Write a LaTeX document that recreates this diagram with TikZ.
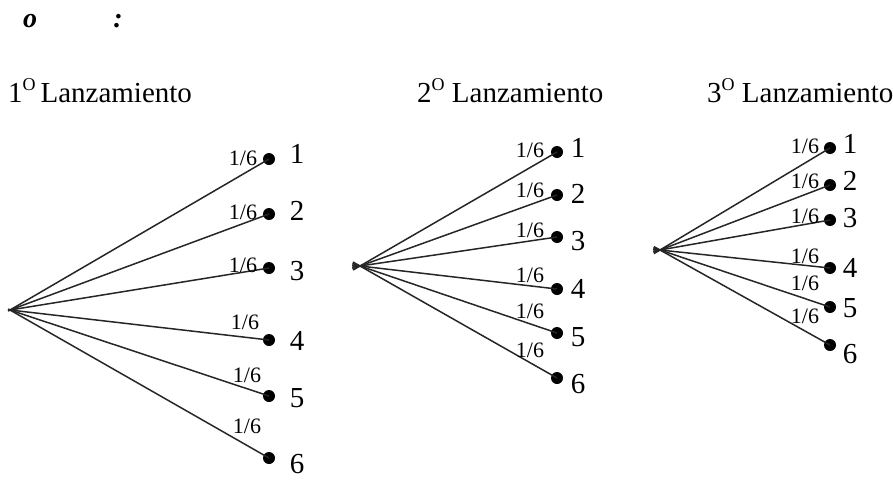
\documentclass[tikz,border=0pt]{standalone}
\usepackage{fontspec}
\setmainfont{Liberation Serif}
\usetikzlibrary{calc}
\begin{document}
\begin{tikzpicture}[x=1pt,y=-1pt,
  leaf/.style={circle,fill=black,inner sep=0pt,minimum size=12pt},
  br/.style={line width=1.5pt,black!85},
  prob/.style={anchor=base,inner sep=0pt,font=\fontsize{22}{22}\selectfont},
  num/.style={anchor=base,inner sep=0pt,font=\fontsize{29}{29}\selectfont},
  head/.style={anchor=base west,inner sep=0pt,font=\fontsize{29}{29}\selectfont}]
\useasboundingbox (0,0) rectangle (893,480);
% top remnants
\node[anchor=base,inner sep=0pt,font=\fontsize{28}{28}\selectfont\bfseries\itshape] (o) at (30,27) {o};
\node[anchor=base,inner sep=0pt,font=\fontsize{28}{28}\selectfont\bfseries\itshape] (colon) at (118,27) {:};
% headings
\node[head] (h1) at (8,102) {1\raisebox{0.40em}{\fontsize{18}{18}\selectfont O}\,Lanzamiento};
\node[head] (h2) at (417,102) {2\raisebox{0.40em}{\fontsize{18}{18}\selectfont O} Lanzamiento};
\node[head] (h3) at (707,102) {3\raisebox{0.40em}{\fontsize{18}{18}\selectfont O} Lanzamiento};
% ---------- tree 1 ----------
\coordinate (r1) at (10,310);
\node[leaf] (a1) at (269,159) {};
\node[leaf] (a2) at (269,214) {};
\node[leaf] (a3) at (269,268) {};
\node[leaf] (a4) at (269,340) {};
\node[leaf] (a5) at (269,396) {};
\node[leaf] (a6) at (269,458) {};
\foreach \i in {1,...,6} \draw[br] ($(r1)!-2pt!(a\i)$) -- (a\i.center);
\node[prob] (pa1) at (243,165) {1/6};
\node[prob] (pa2) at (243,219) {1/6};
\node[prob] (pa3) at (243,272) {1/6};
\node[prob] (pa4) at (245,329) {1/6};
\node[prob] (pa5) at (247,382) {1/6};
\node[prob] (pa6) at (247,433) {1/6};
\node[num] (na1) at (297,163) {1};
\node[num] (na2) at (297,220) {2};
\node[num] (na3) at (297,280) {3};
\node[num] (na4) at (297,350) {4};
\node[num] (na5) at (297,407) {5};
\node[num] (na6) at (297,473) {6};
% ---------- tree 2 ----------
\coordinate (r2) at (360,266);
\node[leaf] (b1) at (557,152) {};
\node[leaf] (b2) at (557,195) {};
\node[leaf] (b3) at (557,237) {};
\node[leaf] (b4) at (557,289) {};
\node[leaf] (b5) at (557,333) {};
\node[leaf] (b6) at (557,378) {};
\foreach \i in {1,...,6} \draw[br] ($(r2)!-8pt!(b\i)$) -- (b\i.center);
\node[prob] (pb1) at (530,157) {1/6};
\node[prob] (pb2) at (530,197) {1/6};
\node[prob] (pb3) at (530,237) {1/6};
\node[prob] (pb4) at (530,282) {1/6};
\node[prob] (pb5) at (530,318) {1/6};
\node[prob] (pb6) at (530,357) {1/6};
\node[num] (nb1) at (578,157) {1};
\node[num] (nb2) at (578,203) {2};
\node[num] (nb3) at (578,250) {3};
\node[num] (nb4) at (578,298) {4};
\node[num] (nb5) at (578,346) {5};
\node[num] (nb6) at (578,393) {6};
% ---------- tree 3 ----------
\coordinate (r3) at (660,250);
\node[leaf] (c1) at (830,148) {};
\node[leaf] (c2) at (830,185) {};
\node[leaf] (c3) at (830,220) {};
\node[leaf] (c4) at (830,268) {};
\node[leaf] (c5) at (830,307) {};
\node[leaf] (c6) at (830,345) {};
\foreach \i in {1,...,6} \draw[br] ($(r3)!-7pt!(c\i)$) -- (c\i.center);
\node[prob] (pc1) at (805,153) {1/6};
\node[prob] (pc2) at (805,188) {1/6};
\node[prob] (pc3) at (805,223) {1/6};
\node[prob] (pc4) at (805,263) {1/6};
\node[prob] (pc5) at (805,290) {1/6};
\node[prob] (pc6) at (805,323) {1/6};
\node[num] (nc1) at (850,153) {1};
\node[num] (nc2) at (850,190) {2};
\node[num] (nc3) at (850,227) {3};
\node[num] (nc4) at (850,277) {4};
\node[num] (nc5) at (850,317) {5};
\node[num] (nc6) at (850,363) {6};
\end{tikzpicture}
\end{document}
